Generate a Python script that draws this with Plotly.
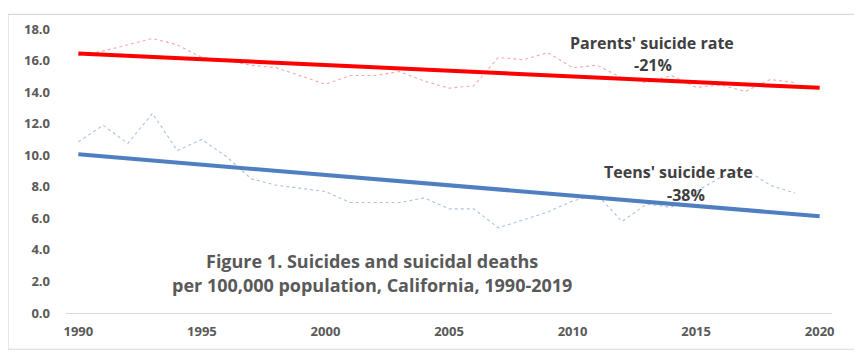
import plotly.graph_objects as go

years = list(range(1990, 2020))
parents_rate = [16.3, 16.6, 17.0, 17.4, 17.0, 16.2, 16.0, 15.7, 15.55, 15.0,
                14.5, 15.05, 15.05, 15.3, 14.7, 14.25, 14.4, 16.2, 16.05, 16.5,
                15.55, 15.7, 14.9, 14.6, 15.05, 14.3, 14.45, 14.05, 14.8, 14.6]
teens_rate = [10.85, 11.9, 10.75, 12.65, 10.3, 11.0, 9.9, 8.5, 8.1, 7.9,
              7.7, 7.0, 7.0, 7.0, 7.3, 6.6, 6.6, 5.4, 5.9, 6.4,
              7.1, 7.5, 5.8, 6.9, 6.7, 7.7, 8.6, 9.1, 8.1, 7.6]
trend_years = [1990, 2020]
parents_trend = [16.44, 14.27]
teens_trend = [10.06, 6.13]
x_ticks = [1990, 1995, 2000, 2005, 2010, 2015, 2020]
y_ticks = [0, 2, 4, 6, 8, 10, 12, 14, 16, 18]

FONT = "Open Sans"

fig = go.Figure()
fig.add_trace(go.Scatter(x=years, y=parents_rate, mode="lines",
                         line=dict(color="#f4a8b0", width=1.1, dash="dot"),
                         showlegend=False, hoverinfo="skip"))
fig.add_trace(go.Scatter(x=years, y=teens_rate, mode="lines",
                         line=dict(color="#adc2e0", width=1.1, dash="dot"),
                         showlegend=False, hoverinfo="skip"))
fig.add_trace(go.Scatter(x=trend_years, y=parents_trend, mode="lines",
                         line=dict(color="#ff0000", width=4),
                         showlegend=False))
fig.add_trace(go.Scatter(x=trend_years, y=teens_trend, mode="lines",
                         line=dict(color="#4f7fc0", width=4),
                         showlegend=False))

ann_font = dict(family=FONT, size=16, color="#404040")
fig.add_annotation(x=2013.2, y=17.14, text="<b>Parents' suicide rate</b>", showarrow=False, font=ann_font)
fig.add_annotation(x=2013.25, y=15.7, text="<b>-21%</b>", showarrow=False, font=ann_font)
fig.add_annotation(x=2014.3, y=8.94, text="<b>Teens' suicide rate</b>", showarrow=False, font=ann_font)
fig.add_annotation(x=2014.6, y=7.5, text="<b>-38%</b>", showarrow=False, font=ann_font)
title_font = dict(family=FONT, size=18, color="#595959")
fig.add_annotation(x=2001.9, y=3.3, text="<b>Figure 1. Suicides and suicidal deaths</b>", showarrow=False, font=title_font)
fig.add_annotation(x=2001.9, y=1.8, text="<b>per 100,000 population, California, 1990-2019</b>", showarrow=False, font=title_font)

# outer chart border
fig.add_shape(type="rect", xref="paper", yref="paper",
              x0=-0.0757, x1=1.030, y0=-0.1276, y1=1.0517,
              line=dict(color="#d9d9d9", width=1.2), fillcolor="rgba(0,0,0,0)")

fig.update_layout(
    width=862, height=360,
    margin=dict(l=58, r=38, t=15, b=55),
    paper_bgcolor="white", plot_bgcolor="white",
    font=dict(family=FONT, size=13, color="#595959"),
    xaxis=dict(range=[1989.5, 2020.5], tickvals=x_ticks,
               ticktext=[f"<b>{v}</b>" for v in x_ticks],
               showgrid=False, zeroline=False, showline=True, linecolor="#d9d9d9", linewidth=1.2,
               ticks="", ticklabelstandoff=6,
               tickfont=dict(family=FONT, size=13, color="#595959")),
    yaxis=dict(range=[0, 18], tickvals=y_ticks,
               ticktext=[f"<b>{v:.1f}</b>" for v in y_ticks],
               showgrid=False, zeroline=False, showline=False,
               ticks="", ticklabelstandoff=15,
               tickfont=dict(family=FONT, size=13, color="#595959")),
)

fig.write_html("out.html")
